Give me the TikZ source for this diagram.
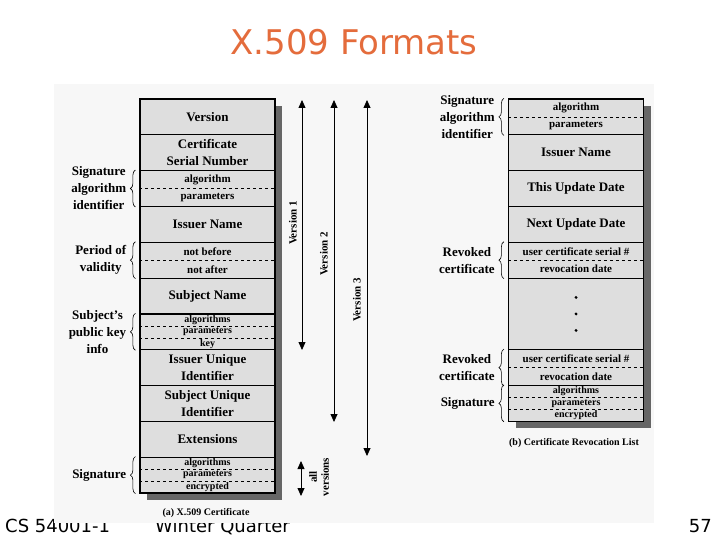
\documentclass[tikz,border=0pt]{standalone}
\usepackage{fontspec}
\setmainfont{Liberation Serif}
\newfontfamily\slidefont{DejaVu Sans}
\usetikzlibrary{arrows.meta, decorations.pathreplacing}

\definecolor{titleorange}{RGB}{228,108,60}
\definecolor{panelgray}{RGB}{247,247,247}
\definecolor{fieldgray}{RGB}{222,222,222}
\definecolor{shadowgray}{RGB}{102,102,102}

\begin{document}
\begin{tikzpicture}[
    x=1pt, y=-1pt,
    field/.style={draw=black, line width=1.2pt, fill=fieldgray, minimum width=135pt, minimum height=35.8pt, inner sep=0pt, align=center, font=\bfseries\fontsize{13}{16.5}\selectfont},
    part/.style={inner sep=0pt, font=\bfseries\fontsize{11}{11}\selectfont},
    tinypart/.style={inner sep=0pt, font=\bfseries\fontsize{10}{10}\selectfont},
    split/.style={dashed, line width=0.6pt},
    tag/.style={anchor=east, inner sep=0pt, align=center, font=\bfseries\fontsize{13}{17}\selectfont},
    curly/.style={decorate, decoration={brace, amplitude=5pt}, line width=0.6pt},
    span/.style={{Triangle[width=7pt,length=8pt]}-{Triangle[width=7pt,length=8pt]}, line width=0.8pt},
    vlabel/.style={rotate=90, inner sep=0pt, align=center, font=\bfseries\fontsize{11}{12}\selectfont},
    figcap/.style={inner sep=0pt, font=\bfseries\fontsize{10}{12}\selectfont},
    footer/.style={font=\slidefont\fontsize{18}{18}\selectfont, inner sep=0pt}
]
\useasboundingbox (0,0) rectangle (720,540);

% footer, half hidden under the panel
\node[footer, anchor=base west] (course) at (5,532) {CS 54001-1};
\node[footer, anchor=base west] (term) at (155,532) {Winter Quarter};
\node[footer, anchor=base east] (page) at (712,532) {57};

\fill[panelgray] (54,84) rectangle (654,523);

\node[anchor=base, text=titleorange, font=\slidefont\fontsize{34}{34}\selectfont] (title) at (354,55) {X.509 Formats};

% (a) certificate
\fill[shadowgray] (147,106) rectangle (282,500);
\node[field] (version) at (207.5,116.9) {Version};
\node[field] (serial) at (207.5,152.7) {Certificate\\Serial Number};
\node[field] (sigalg) at (207.5,188.5) {};
\node[field] (issuer) at (207.5,224.4) {Issuer Name};
\node[field] (validity) at (207.5,260.2) {};
\node[field] (subject) at (207.5,296.0) {Subject Name};
\node[field] (pubkey) at (207.5,331.8) {};
\node[field] (issuerid) at (207.5,367.7) {Issuer Unique\\Identifier};
\node[field] (subjectid) at (207.5,403.5) {Subject Unique\\Identifier};
\node[field] (extensions) at (207.5,439.3) {Extensions};
\node[field] (signature) at (207.5,475.1) {};

\draw[split] (sigalg.west) -- (sigalg.east);
\node[part] (sigalgA) at ([yshift=9pt]sigalg.center) {algorithm};
\node[part] (sigalgB) at ([yshift=-9pt]sigalg.center) {parameters};

\draw[split] (validity.west) -- (validity.east);
\node[part] (validityA) at ([yshift=9pt]validity.center) {not before};
\node[part] (validityB) at ([yshift=-9pt]validity.center) {not after};

\draw[split] ([yshift=6pt]pubkey.west) -- ([yshift=6pt]pubkey.east);
\draw[split] ([yshift=-6pt]pubkey.west) -- ([yshift=-6pt]pubkey.east);
\node[tinypart] (pubkeyA) at ([yshift=12pt]pubkey.center) {algorithms};
\node[tinypart] (pubkeyB) at (pubkey.center) {parameters};
\node[tinypart] (pubkeyC) at ([yshift=-12pt]pubkey.center) {key};

\draw[split] ([yshift=6pt]signature.west) -- ([yshift=6pt]signature.east);
\draw[split] ([yshift=-6pt]signature.west) -- ([yshift=-6pt]signature.east);
\node[tinypart] (signatureA) at ([yshift=12pt]signature.center) {algorithms};
\node[tinypart] (signatureB) at (signature.center) {parameters};
\node[tinypart] (signatureC) at ([yshift=-12pt]signature.center) {encrypted};

% braces and their labels
\draw[curly] ([xshift=-4pt]sigalg.south west) -- ([xshift=-4pt]sigalg.north west);
\node[tag] (sigalgtag) at ([xshift=-13pt]sigalg.west) {Signature\\algorithm\\identifier};
\draw[curly] ([xshift=-4pt]validity.south west) -- ([xshift=-4pt]validity.north west);
\node[tag] (validitytag) at ([xshift=-13pt]validity.west) {Period of\\validity};
\draw[curly] ([xshift=-4pt]pubkey.south west) -- ([xshift=-4pt]pubkey.north west);
\node[tag] (pubkeytag) at ([xshift=-13pt]pubkey.west) {Subject's\\public key\\info};
\draw[curly] ([xshift=-4pt]signature.south west) -- ([xshift=-4pt]signature.north west);
\node[tag] (signaturetag) at ([xshift=-13pt]signature.west) {Signature};

\node[figcap] (capA) at (206,513) {(a) X.509 Certificate};

% version spans
\coordinate (v1top) at (302,100);
\coordinate (v1end) at (302,350);
\coordinate (v2top) at (334,100);
\coordinate (v2end) at (334,422);
\coordinate (v3top) at (367,100);
\coordinate (v3end) at (367,456);
\coordinate (alltop) at (301,461);
\coordinate (allend) at (301,496);
\draw[span] (v1top) -- (v1end);
\draw[span] (v2top) -- (v2end);
\draw[span] (v3top) -- (v3end);
\draw[span] (alltop) -- (allend);
\node[vlabel] (v1lbl) at (293,223) {Version 1};
\node[vlabel] (v2lbl) at (324,254) {Version 2};
\node[vlabel] (v3lbl) at (357,300) {Version 3};
\node[vlabel] (alllbl) at (319,477) {all\\versions};

% (b) revocation list
\fill[shadowgray] (515.5,106) rectangle (650.5,428);
\node[field] (crlsigalg) at (576,116.9) {};
\node[field] (crlissuer) at (576,152.7) {Issuer Name};
\node[field] (thisupdate) at (576,188.5) {This Update Date};
\node[field] (nextupdate) at (576,224.4) {Next Update Date};
\node[field] (revokedA) at (576,260.2) {};
\node[field, minimum height=71.6pt] (more) at (576,313.9) {};
\node[field] (revokedB) at (576,367.55) {};
\node[field] (crlsig) at (576,403.3) {};

\draw[split] (crlsigalg.west) -- (crlsigalg.east);
\node[part] (crlsigalgA) at ([yshift=9pt]crlsigalg.center) {algorithm};
\node[part] (crlsigalgB) at ([yshift=-9pt]crlsigalg.center) {parameters};

\draw[split] (revokedA.west) -- (revokedA.east);
\node[part] (revokedAa) at ([yshift=9pt]revokedA.center) {user certificate serial \#};
\node[part] (revokedAb) at ([yshift=-9pt]revokedA.center) {revocation date};

\foreach \dy in {16.5,0,-16.5} {
    \fill ([yshift=\dy pt]more.center) circle (1.6pt);
}

\draw[split] (revokedB.west) -- (revokedB.east);
\node[part] (revokedBa) at ([yshift=9pt]revokedB.center) {user certificate serial \#};
\node[part] (revokedBb) at ([yshift=-9pt]revokedB.center) {revocation date};

\draw[split] ([yshift=6pt]crlsig.west) -- ([yshift=6pt]crlsig.east);
\draw[split] ([yshift=-6pt]crlsig.west) -- ([yshift=-6pt]crlsig.east);
\node[tinypart] (crlsigA) at ([yshift=12pt]crlsig.center) {algorithms};
\node[tinypart] (crlsigB) at (crlsig.center) {parameters};
\node[tinypart] (crlsigC) at ([yshift=-12pt]crlsig.center) {encrypted};

\draw[curly] ([xshift=-4pt]crlsigalg.south west) -- ([xshift=-4pt]crlsigalg.north west);
\node[tag] (crlsigalgtag) at ([xshift=-13pt]crlsigalg.west) {Signature\\algorithm\\identifier};
\draw[curly] ([xshift=-4pt]revokedA.south west) -- ([xshift=-4pt]revokedA.north west);
\node[tag] (revokedAtag) at ([xshift=-13pt]revokedA.west) {Revoked\\certificate};
\draw[curly] ([xshift=-4pt]revokedB.south west) -- ([xshift=-4pt]revokedB.north west);
\node[tag] (revokedBtag) at ([xshift=-13pt]revokedB.west) {Revoked\\certificate};
\draw[curly] ([xshift=-4pt]crlsig.south west) -- ([xshift=-4pt]crlsig.north west);
\node[tag] (crlsigtag) at ([xshift=-13pt]crlsig.west) {Signature};

\node[figcap] (capB) at (574,443) {(b) Certificate Revocation List};

\end{tikzpicture}
\end{document}
